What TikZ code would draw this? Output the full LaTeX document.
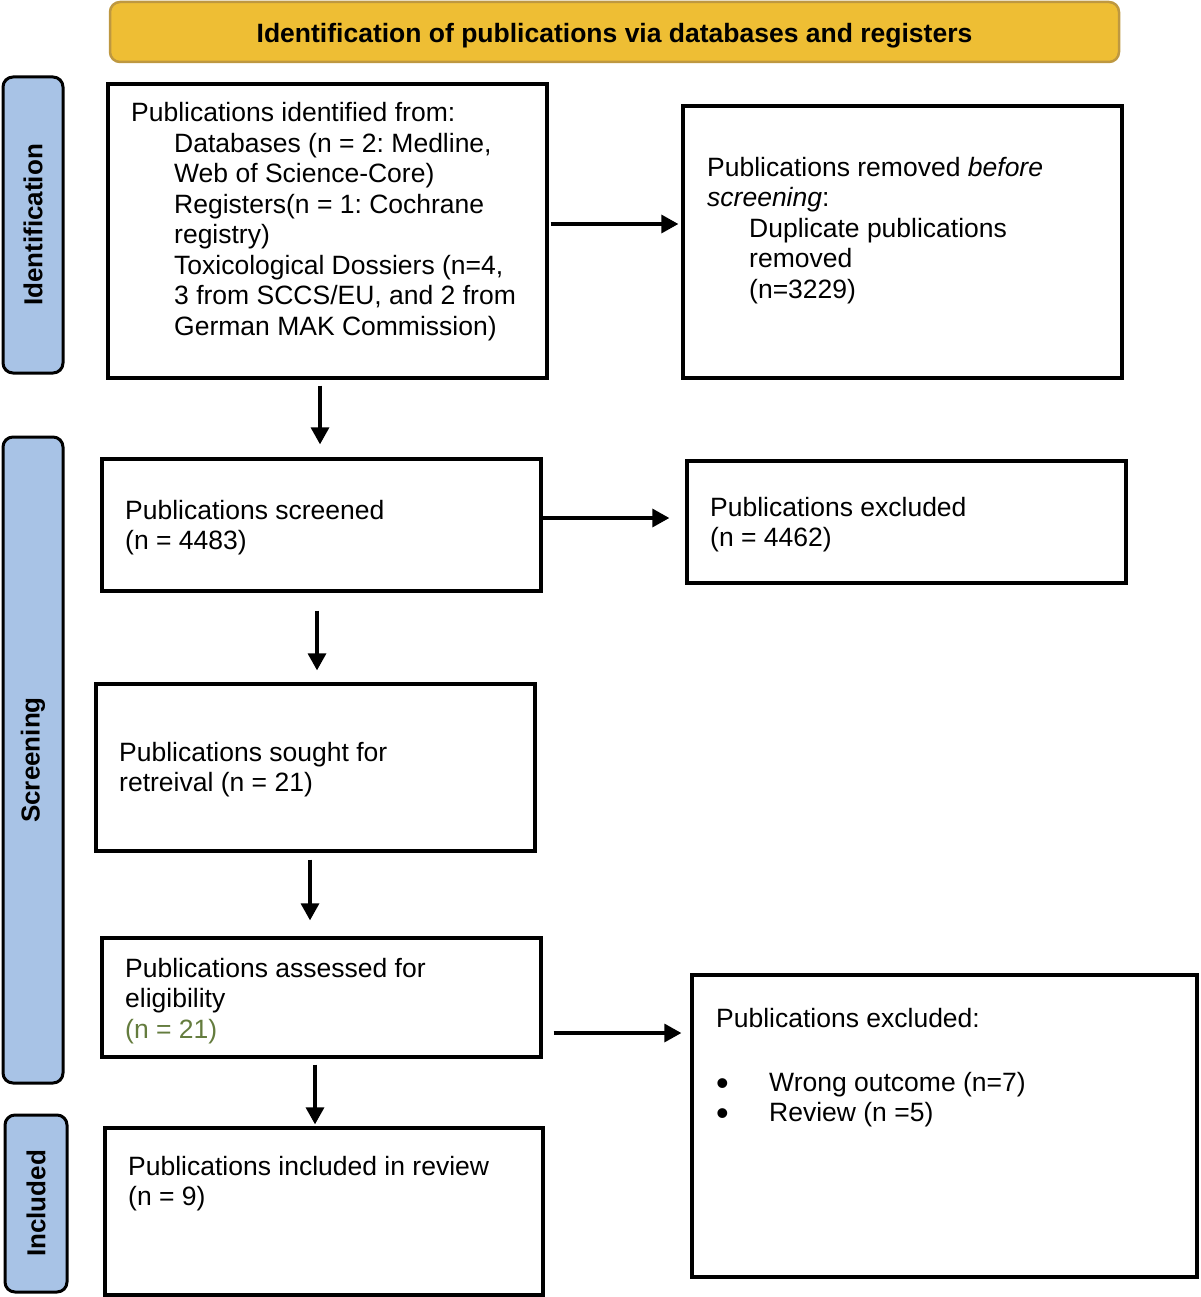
\documentclass[tikz,border=0pt]{standalone}
\usepackage{fontspec}
\setmainfont{Liberation Sans}
\usetikzlibrary{arrows.meta}
\definecolor{hdrfill}{RGB}{238,190,52}
\definecolor{hdrdraw}{RGB}{190,152,64}
\definecolor{sidefill}{RGB}{168,195,230}
\definecolor{olive}{RGB}{100,124,62}
\frenchspacing
\newcommand{\bulitem}{\makebox[53pt][l]{\raisebox{-4pt}{\fontsize{36}{30.5}\selectfont •}}}
\begin{document}
\begin{tikzpicture}[x=1pt,y=-1pt,
  box/.style={draw=black,line width=3.3pt,fill=white,inner sep=0pt},
  side/.style={draw=black,line width=3pt,fill=sidefill,rounded corners=10pt,rotate=90,inner sep=0pt,
    font=\fontsize{26}{30}\selectfont\bfseries},
  txt/.style={anchor=north west,inner sep=0pt,align=left,
    font=\fontsize{26.5}{30.5}\selectfont},
  arr/.style={line width=3.3pt,-{Triangle[length=17pt,width=18pt]}}]
\useasboundingbox (0,0) rectangle (1200,1297);
% header
\node[draw=hdrdraw,line width=2.5pt,fill=hdrfill,rounded corners=10pt,minimum width=1009pt,minimum height=60pt,inner sep=0pt,
  text height=21pt,text depth=0pt,
  font=\fontsize{26.5}{30}\selectfont\bfseries] (hdr) at (614.5,32) {Identification of publications via databases and registers};
% side labels
\node[side,minimum width=296pt,minimum height=60pt] (sid) at (33,225) {Identification};
\node[side,minimum width=646pt,minimum height=60pt] (sscr) at (33,760) {Screening};
\node[side,minimum width=177pt,minimum height=62pt] (sinc) at (36,1203.5) {Included};
% boxes
\node[box,minimum width=439pt,minimum height=294pt] (b1) at (327.5,231) {};
\node[box,minimum width=439pt,minimum height=272pt] (b2) at (902.5,242) {};
\node[box,minimum width=439pt,minimum height=132pt] (b3) at (321.5,525) {};
\node[box,minimum width=439pt,minimum height=122pt] (b4) at (906.5,522) {};
\node[box,minimum width=439pt,minimum height=167pt] (b5) at (315.5,767.5) {};
\node[box,minimum width=439pt,minimum height=119pt] (b6) at (321.5,997.5) {};
\node[box,minimum width=505pt,minimum height=302pt] (b7) at (944.5,1126) {};
\node[box,minimum width=438pt,minimum height=167pt] (b8) at (324,1211.5) {};
% texts
\node[txt] (t1a) at (131,101) {\rule{0pt}{20pt}Publications identified from:};
\node[txt] (t1b) at (174,132) {\rule{0pt}{20pt}Databases (n = 2: Medline,\\Web of Science-Core)\\Registers(n = 1: Cochrane\\registry)\\Toxicological Dossiers (n=4,\\3 from SCCS/EU, and 2 from\\German MAK Commission)};
\node[txt] (t2a) at (707,156) {\rule{0pt}{20pt}Publications removed \textit{before}\\\textit{screening}:};
\node[txt] (t2b) at (749,217) {\rule{0pt}{20pt}Duplicate publications\\removed\\(n=3229)};
\node[txt] (t3) at (125,499) {\rule{0pt}{20pt}Publications screened\\(n = 4483)};
\node[txt] (t4) at (710,496) {\rule{0pt}{20pt}Publications excluded\\(n = 4462)};
\node[txt] (t5) at (119,741) {\rule{0pt}{20pt}Publications sought for\\retreival (n = 21)};
\node[txt] (t6) at (125,957) {\rule{0pt}{20pt}Publications assessed for\\eligibility\\\textcolor{olive}{(n = 21)}};
\node[txt] (t7a) at (716,1007) {\rule{0pt}{20pt}Publications excluded:};
\node[txt] (t7b) at (716,1071) {\rule{0pt}{20pt}\bulitem Wrong outcome (n=7)\\\bulitem Review (n =5)};
\node[txt] (t8) at (128,1155) {\rule{0pt}{20pt}Publications included in review\\(n = 9)};
% arrows
\draw[arr,shorten <=2pt,shorten >=3pt] ([yshift=7pt]b1.east) -- ([yshift=18pt]b2.west);
\draw[arr,shorten <=6pt,shorten >=13pt] ([xshift=-7.5pt]b1.south) -- ([xshift=-1.5pt]b3.north);
\draw[arr,shorten <=0pt,shorten >=16pt] ([yshift=7pt]b3.east) -- ([yshift=4pt]b4.west);
\draw[arr,shorten <=18pt,shorten >=12pt] ([xshift=-4.5pt]b3.south) -- ([xshift=1.5pt]b5.north);
\draw[arr,shorten <=7pt,shorten >=16pt] ([xshift=-5.5pt]b5.south) -- ([xshift=-11.5pt]b6.north);
\draw[arr,shorten <=11pt,shorten >=9pt] ([yshift=-35.5pt]b6.east) -- ([yshift=93pt]b7.west);
\draw[arr,shorten <=6pt,shorten >=2pt] ([xshift=-6.5pt]b6.south) -- ([xshift=-9pt]b8.north);
\end{tikzpicture}
\end{document}
